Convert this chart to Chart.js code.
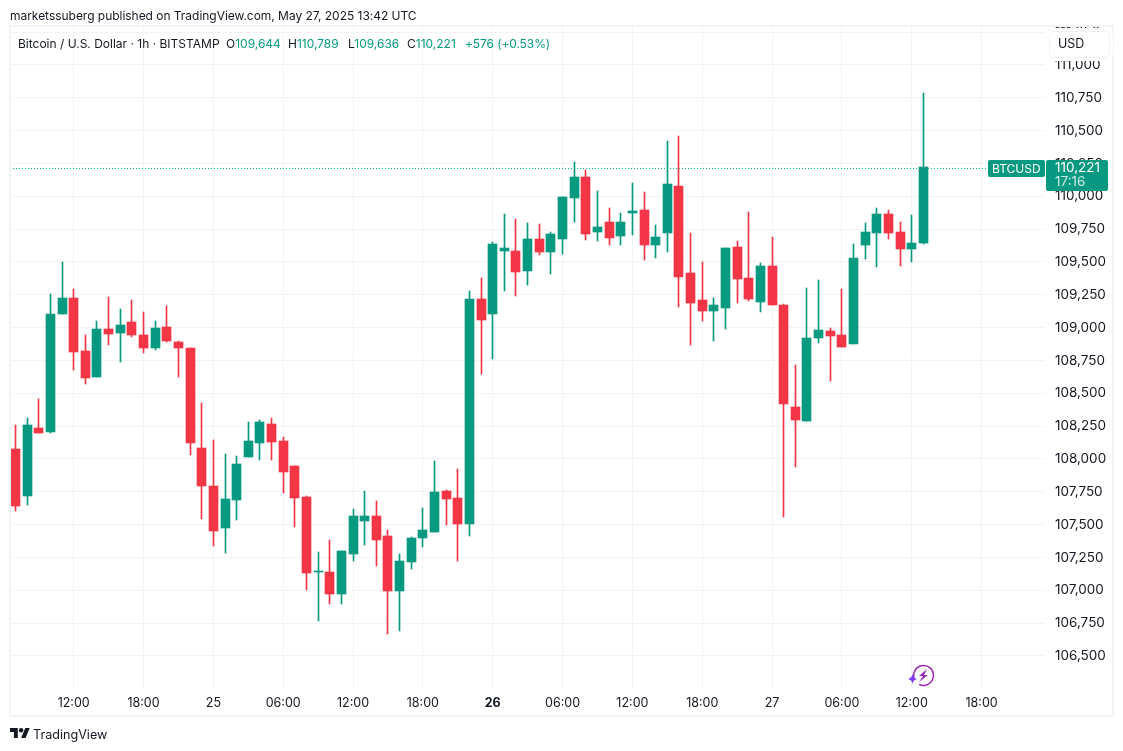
<!DOCTYPE html>
<html>
<head>
<meta charset="utf-8">
<title>Bitcoin / U.S. Dollar</title>
<script src="https://cdn.jsdelivr.net/npm/chart.js@4"></script>
<style>
  html, body { margin: 0; padding: 0; background: #fff; }
  body { width: 1123px; height: 751px; position: relative; overflow: hidden; font-family: Inter, sans-serif; color: #131722; }
  canvas { position: absolute; left: 0; top: 0; }
  .frame { position: absolute; left: 9px; top: 25px; width: 1101px; height: 688px; border: 2px solid #f3f3f5; }
  .txt { position: absolute; font-size: 12px; line-height: 16px; white-space: nowrap; }
  .up { color: #089981; }
  .usd { position: absolute; left: 1049px; top: 31px; width: 59px; height: 25px; border: 1px solid #f0f1f3; border-radius: 5px; background: #fff; font-size: 12.5px; line-height: 24px; text-indent: 8px; box-shadow: 0 0 0 3px #fff; }
  .logo { position: absolute; left: 10px; top: 727px; }
</style>
</head>
<body>
<canvas id="chart" width="1123" height="751"></canvas>
<div class="frame"></div>
<div class="txt" style="left:10px;top:8px;letter-spacing:-0.03px">marketssuberg published on TradingView.com, May 27, 2025 13:42 UTC</div>
<div class="txt" style="left:18px;top:36px">Bitcoin / U.S. Dollar · 1h · BITSTAMP</div>
<div class="txt" style="left:226px;top:36px">O<span class="up">109,644</span></div>
<div class="txt" style="left:288px;top:36px">H<span class="up">110,789</span></div>
<div class="txt" style="left:348px;top:36px">L<span class="up">109,636</span></div>
<div class="txt" style="left:407px;top:36px">C<span class="up">110,221</span></div>
<div class="txt up" style="left:465px;top:36px;letter-spacing:-0.1px">+576 (+0.53%)</div>
<div class="usd">USD</div>
<svg class="logo" width="20" height="12" viewBox="0 4 36 18"><path fill="#131722" d="M14 22H7V11H0V4h14v18zM28 22h-8l7.5-18h8L28 22z"/><circle fill="#131722" cx="20" cy="8" r="4"/></svg>
<div class="txt" style="left:33px;top:727px;font-size:12.6px">TradingView</div>
<script>
// hourly candles, May 24 07:00 to May 27 13:00 (UTC)
const opens = [108076,107718,108236,108205,109104,109226,108822,108624,108990,108959,109043,108944,108845,109005,108891,108845,108083,107794,107474,107688,108015,108122,108266,108137,107946,107710,107137,107139,106972,107276,107528,107566,107413,106995,107215,107398,107444,107756,107703,107505,109218,109104,109584,109584,109431,109675,109576,109675,109987,110147,109728,109805,109698,109873,109896,109629,109721,110079,109416,109210,109127,109149,109614,109378,109195,109469,109172,108396,108289,108921,108974,108944,108875,109629,109720,109865,109728,109599,109644];
const highs = [108259,108312,108457,109256,109500,109294,108944,109050,109233,109142,109210,109119,109050,109165,108898,108845,108426,108144,108038,108023,108281,108297,108312,108167,107946,107718,107292,107383,107299,107619,107756,107680,107459,107276,107406,107627,107985,107764,107924,109279,109378,109652,109865,109827,109797,109789,109728,109995,110261,110200,110041,109911,109873,110101,110033,109782,110421,110459,109720,109500,109226,109606,109660,109880,109492,109690,109180,108715,109302,109363,108997,109294,109637,109797,109911,109896,109804,109858,110789];
const lows = [107604,107650,108198,108198,109104,108677,108571,108624,108868,108738,108929,108807,108830,108891,108624,108030,107543,107337,107284,107535,108015,107992,107992,107741,107482,107002,106766,106896,106896,107223,107345,107185,106667,106690,107162,107330,107444,107497,107223,107413,108650,108761,109279,109241,109325,109553,109409,109561,109805,109667,109660,109629,109629,109706,109515,109530,109576,109157,108868,109050,108898,108990,109187,109203,109119,109172,107558,107939,108289,108883,108594,108852,108875,109523,109462,109675,109469,109500,109636];
const closes = [107642,108259,108198,109104,109226,108814,108616,108990,108951,109020,108944,108845,108997,108898,108845,108122,107794,107452,107695,107962,108137,108281,108129,107901,107703,107132,107139,106972,107299,107566,107566,107383,106995,107223,107398,107459,107748,107695,107505,109218,109058,109637,109607,109424,109675,109576,109713,109995,110147,109713,109766,109683,109805,109888,109629,109690,110094,109386,109188,109127,109172,109606,109370,109218,109469,109172,108418,108297,108921,108982,108936,108852,109530,109728,109865,109720,109599,109644,110221];

const timeTicks = [5,11,17,23,29,35,41,47,53,59,65,71,77,83];
const timeLabels = ['12:00','18:00','25','06:00','12:00','18:00','26','06:00','12:00','18:00','27','06:00','12:00','18:00'];
const boldLabel = '26';
const priceTicks = [106500,106750,107000,107250,107500,107750,108000,108250,108500,108750,109000,109250,109500,109750,110000,110250,110500,110750,111000,111250];

const lastClose = closes[closes.length - 1];
const GREEN = '#089981';
const RED = '#F23645';
const GRID = '#f2f3f5';
const hours = opens.map((_, i) => i);
const colors = hours.map(i => closes[i] >= opens[i] ? GREEN : RED);

// keep candles and the price line on whole pixels like the original
const snapBars = {
  id: 'snapBars',
  afterDatasetsUpdate(chart) {
    [0, 1].forEach(d => {
      chart.getDatasetMeta(d).data.forEach(el => {
        el.x = Math.floor(el.x) + 0.5;
        el.y = Math.round(el.y);
        el.base = Math.round(el.base);
        if (el.base === el.y) el.base = el.y + 1;
      });
    });
    chart.getDatasetMeta(2).data.forEach(pt => {
      pt.y = Math.round(pt.y) + 1.5;
    });
  }
};

const lastPriceBadge = {
  id: 'lastPriceBadge',
  afterDraw(chart) {
    const ctx = chart.ctx;
    const y = Math.round(chart.scales.y.getPixelForValue(lastClose)) + 1;
    ctx.save();
    ctx.fillStyle = GREEN;
    ctx.beginPath();
    ctx.roundRect(988, y - 8, 57, 17, 2);
    ctx.roundRect(1046, y - 8, 62, 31, 2);
    ctx.fill();
    ctx.textBaseline = 'middle';
    ctx.textAlign = 'left';
    ctx.fillStyle = '#fff';
    ctx.font = '12px Inter, sans-serif';
    ctx.fillText('BTCUSD', 992, y + 1);
    ctx.font = '13.5px Inter, sans-serif';
    ctx.fillText('110,221', 1055, y);
    ctx.fillStyle = '#cdebe4';
    ctx.fillText('17:16', 1055, y + 14);

    // lightning mark
    ctx.strokeStyle = '#9c27b0';
    ctx.lineWidth = 1.5;
    ctx.beginPath();
    ctx.arc(923.5, 675.5, 10, 2.9, 2.9 + Math.PI * 1.72);
    ctx.stroke();
    ctx.fillStyle = '#9c27b0';
    ctx.beginPath();
    ctx.moveTo(927, 669);
    ctx.lineTo(919, 676);
    ctx.lineTo(923, 676);
    ctx.lineTo(919, 682);
    ctx.lineTo(928, 675);
    ctx.lineTo(924, 675);
    ctx.closePath();
    ctx.fill();
    ctx.fillStyle = '#7b3ff2';
    ctx.beginPath();
    ctx.moveTo(912.5, 674);
    ctx.quadraticCurveTo(913, 678, 917, 679);
    ctx.quadraticCurveTo(913, 680, 912.5, 684);
    ctx.quadraticCurveTo(912, 680, 908, 679);
    ctx.quadraticCurveTo(912, 678, 912.5, 674);
    ctx.fill();
    ctx.restore();
  }
};

new Chart(document.getElementById('chart'), {
  type: 'bar',
  data: {
    datasets: [
      {
        label: 'body',
        data: hours.map(i => ({ x: i, y: [opens[i], closes[i]] })),
        backgroundColor: colors,
        barThickness: 9,
        minBarLength: 1,
        grouped: false,
        order: 1
      },
      {
        label: 'wick',
        data: hours.map(i => ({ x: i, y: [lows[i], highs[i]] })),
        backgroundColor: colors,
        barThickness: 1,
        grouped: false,
        order: 2
      },
      {
        type: 'line',
        label: 'last',
        data: [{ x: -0.4725, y: lastClose }, { x: 83.55, y: lastClose }],
        borderColor: '#00b391',
        borderWidth: 1,
        borderDash: [1, 2],
        pointRadius: 0,
        order: 3
      }
    ]
  },
  options: {
    responsive: false,
    animation: false,
    devicePixelRatio: 1,
    layout: { padding: { left: 10, top: 27, right: 10, bottom: 35 } },
    plugins: { legend: { display: false }, tooltip: { enabled: false } },
    scales: {
      x: {
        type: 'linear',
        offset: false,
        min: -0.4725,
        max: 88.45,
        grid: { color: GRID, offset: false, drawTicks: false },
        border: { display: false },
        afterBuildTicks: s => { s.ticks = timeTicks.map(v => ({ value: v })); },
        afterFit: s => { s.height = 28; },
        ticks: {
          autoSkip: false,
          maxRotation: 0,
          padding: 8,
          color: '#131722',
          font: c => ({
            family: 'Inter, sans-serif',
            size: 12.5,
            weight: c.tick && timeLabels[timeTicks.indexOf(c.tick.value)] === boldLabel ? 'bold' : 'normal'
          }),
          callback: v => timeLabels[timeTicks.indexOf(v)]
        }
      },
      y: {
        position: 'right',
        min: 106256,
        max: 111289,
        grid: { color: GRID, drawTicks: false },
        border: { display: false },
        afterBuildTicks: s => { s.ticks = priceTicks.map(v => ({ value: v })); },
        afterFit: s => { s.width = 68; },
        ticks: {
          autoSkip: false,
          padding: 10,
          color: '#131722',
          font: { family: 'Inter, sans-serif', size: 13.5 },
          callback: v => v.toLocaleString('en-US')
        }
      }
    }
  },
  plugins: [snapBars, lastPriceBadge]
});
</script>
</body>
</html>
